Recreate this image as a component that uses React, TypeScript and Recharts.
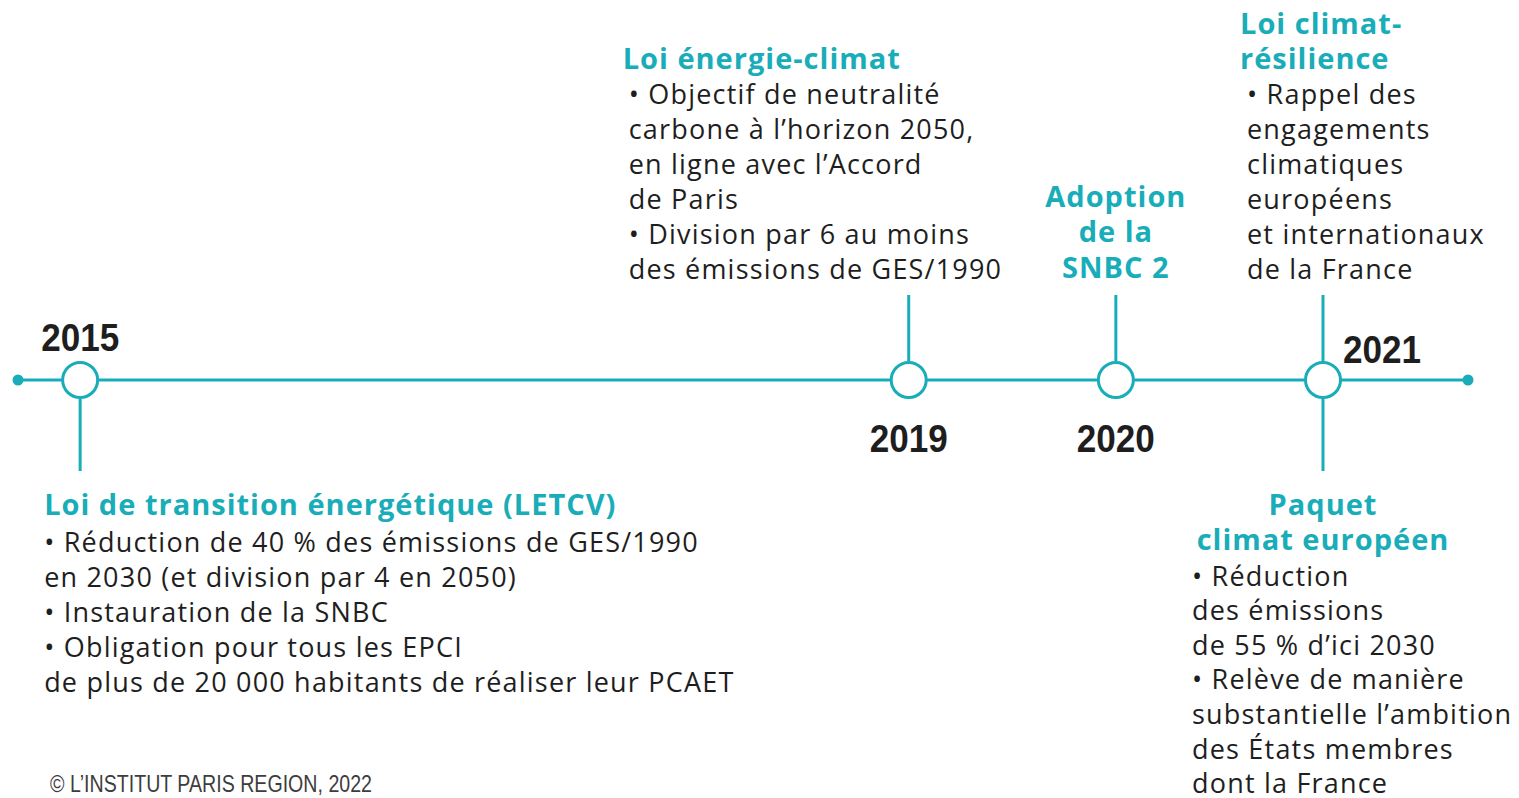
import { ComposedChart, Line, Scatter, XAxis, YAxis } from "recharts";

// timeline span and events
const timelineStart = 2014.7;
const timelineEnd = 2021.7;
const eventYears = [2015, 2019, 2020, 2021];
const yearLabels = ["2015", "2019", "2020", "2021"];

// texts
const letcvTitle = ["Loi de transition énergétique (LETCV)"];
const letcvBody = [
  "• Réduction de 40 % des émissions de GES/1990",
  "en 2030 (et division par 4 en 2050)",
  "• Instauration de la SNBC",
  "• Obligation pour tous les EPCI",
  "de plus de 20 000 habitants de réaliser leur PCAET",
];
const energieTitle = ["Loi énergie-climat"];
const energieBody = [
  "• Objectif de neutralité",
  "carbone à l’horizon 2050,",
  "en ligne avec l’Accord",
  "de Paris",
  "• Division par 6 au moins",
  "des émissions de GES/1990",
];
const snbcTitle = ["Adoption", "de la", "SNBC 2"];
const resilienceTitle = ["Loi climat-", "résilience"];
const resilienceBody = [
  "• Rappel des",
  "engagements",
  "climatiques",
  "européens",
  "et internationaux",
  "de la France",
];
const paquetTitle = ["Paquet", "climat européen"];
const paquetBody = [
  "• Réduction",
  "des émissions",
  "de 55 % d’ici 2030",
  "• Relève de manière",
  "substantielle l’ambition",
  "des États membres",
  "dont la France",
];
const footer = "© L’INSTITUT PARIS REGION, 2022";

const TEAL = "#19adb9";
const INK = "#1e1e1e";
const BODY_FONT = "'Open Sans', Lato, sans-serif";
const YEAR_FONT = "'Liberation Sans', Arial, sans-serif";

// layout per event (offsets from the circle centre)
const layout: Record<number, any> = {
  2015: {
    year: { dx: 0, dy: -43, anchor: "middle" },
    stems: { up: 0, down: 72 },
    blocks: [
      { title: letcvTitle, body: letcvBody, tx: -36, ty: 123, bx: -36, by: 161, step: 35, anchor: "start" },
    ],
  },
  2019: {
    year: { dx: 0, dy: 58, anchor: "middle" },
    stems: { up: 66, down: 0 },
    blocks: [
      { title: energieTitle, body: energieBody, tx: -286, ty: -323, bx: -280, by: -287, step: 35, anchor: "start" },
    ],
  },
  2020: {
    year: { dx: 0, dy: 58, anchor: "middle" },
    stems: { up: 66, down: 0 },
    blocks: [{ title: snbcTitle, body: [], tx: 0, ty: -185, bx: 0, by: 0, step: 35, anchor: "middle" }],
  },
  2021: {
    year: { dx: 20, dy: -31, anchor: "start" },
    stems: { up: 66, down: 72 },
    blocks: [
      { title: resilienceTitle, body: resilienceBody, tx: -83, ty: -358, bx: -76, by: -287, step: 35, anchor: "start" },
      { title: paquetTitle, body: paquetBody, tx: 0, ty: 123, bx: -131, by: 195, step: 34.6, anchor: "middle" },
    ],
  },
};

const lineData = [
  { year: timelineStart, y: 0 },
  { year: timelineEnd, y: 0 },
];
const eventData = eventYears.map((year, i) => ({ year, y: 0, label: yearLabels[i] }));

const R = 19;

function EventMark(props: any) {
  const { cx, cy, payload } = props;
  const cfg = layout[payload.year];
  return (
    <g>
      {cfg.stems.up > 0 && (
        <line x1={cx} x2={cx} y1={cy - R} y2={cy - R - cfg.stems.up} stroke={TEAL} strokeWidth={3} />
      )}
      {cfg.stems.down > 0 && (
        <line x1={cx} x2={cx} y1={cy + R} y2={cy + R + cfg.stems.down} stroke={TEAL} strokeWidth={3} />
      )}
      <circle cx={cx} cy={cy} r={R - 1.5} fill="#fff" stroke={TEAL} strokeWidth={3} />
      <text
        x={cx + cfg.year.dx}
        y={cy + cfg.year.dy}
        textAnchor={cfg.year.anchor}
        dominantBaseline="central"
        fontFamily={YEAR_FONT}
        fontWeight="bold"
        fontSize={39}
        textLength={78}
        lengthAdjust="spacingAndGlyphs"
        fill={INK}
      >
        {payload.label}
      </text>
      {cfg.blocks.map((b: any, bi: number) => (
        <g key={bi}>
          {b.title.map((t: string, i: number) => (
            <text
              key={"t" + i}
              x={cx + b.tx}
              y={cy + b.ty + i * 35.5}
              textAnchor={b.anchor}
              dominantBaseline="central"
              fontFamily={BODY_FONT}
              fontWeight={700}
              fontSize={29}
              letterSpacing={1}
              fill={TEAL}
            >
              {t}
            </text>
          ))}
          {b.body.map((t: string, i: number) => (
            <text
              key={"b" + i}
              x={cx + b.bx}
              y={cy + b.by + i * b.step}
              textAnchor="start"
              dominantBaseline="central"
              fontFamily={BODY_FONT}
              fontWeight={500}
              fontSize={27}
              letterSpacing={1.2}
              fill={INK}
            >
              {t}
            </text>
          ))}
        </g>
      ))}
    </g>
  );
}

export default function App() {
  return (
    <div style={{ position: "absolute", left: 0, top: 0, width: 1519, height: 798, background: "#fff" }}>
      <ComposedChart
        width={1519}
        height={798}
        margin={{ top: 0, right: 51, bottom: 38, left: 18 }}
      >
        <XAxis type="number" dataKey="year" domain={[timelineStart, timelineEnd]} hide />
        <YAxis type="number" dataKey="y" domain={[-1, 1]} hide />
        <Line
          data={lineData}
          dataKey="y"
          stroke={TEAL}
          strokeWidth={3}
          dot={{ r: 5.5, fill: TEAL, stroke: TEAL, strokeWidth: 0 }}
          isAnimationActive={false}
        />
        <Scatter
          data={eventData}
          dataKey="y"
          shape={(p: any) => <EventMark {...p} />}
          isAnimationActive={false}
        />
      </ComposedChart>
      <svg width={400} height={40} style={{ position: "absolute", left: 0, top: 764 }}>
        <text
          x={50}
          y={19}
          dominantBaseline="central"
          fontFamily={YEAR_FONT}
          fontSize={24}
          textLength={322}
          lengthAdjust="spacingAndGlyphs"
          fill="#3d3d3d"
        >
          {footer}
        </text>
      </svg>
    </div>
  );
}
